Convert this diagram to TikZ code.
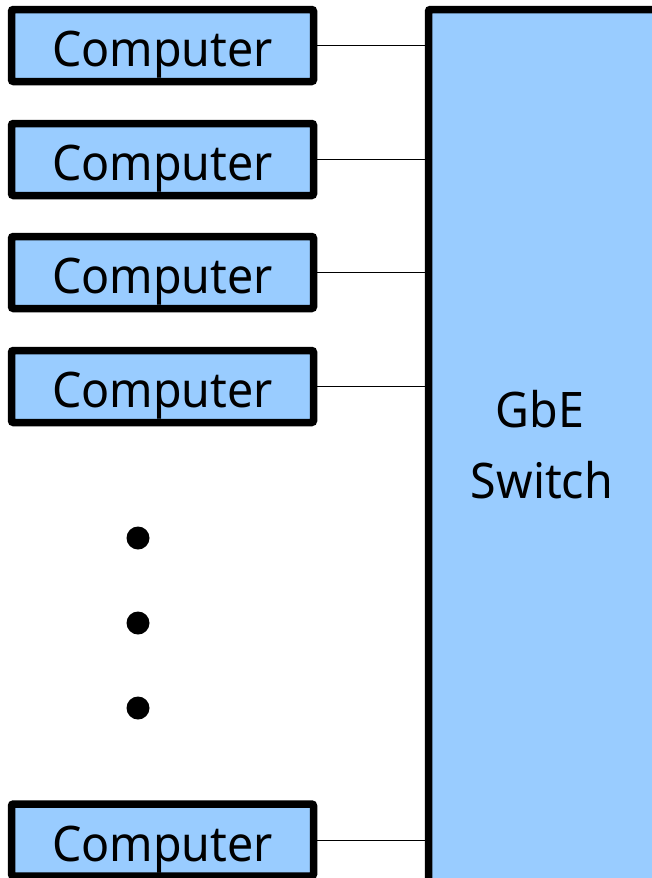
\documentclass[tikz,border=0pt]{standalone}
\usepackage{fontspec}
\setmainfont{Noto Sans}[FakeStretch=0.95]
\definecolor{boxblue}{HTML}{99CCFF}
\begin{document}
\begin{tikzpicture}[x=1pt,y=-1pt,
  bigtext/.style={font=\fontsize{49}{71}\selectfont},
  unit/.style={draw=black, line width=7.5pt, fill=boxblue, rounded corners=2pt,
    minimum width=302pt, minimum height=72pt, inner sep=0pt, outer sep=0pt,
    text height=42pt, text depth=0pt, bigtext, anchor=center},
  link/.style={draw=black, line width=0.9pt},
  dot/.style={circle, fill=black, minimum size=23pt, inner sep=0pt}]
\useasboundingbox (0,0) rectangle (652,878);
% switch (runs past the page edges)
\node[draw=black, line width=7.5pt, fill=boxblue, rounded corners=2pt,
  minimum width=260pt, minimum height=900pt, inner sep=0pt, outer sep=0pt,
  anchor=north west] (sw) at (428.5,9.5) {};
\node[bigtext, anchor=base] (gbe) at (540,427) {GbE};
\node[bigtext, anchor=base] (swname) at (542,498) {Switch};
% computers
\node[unit] (c1) at (162.5,45.5) {Computer};
\node[unit] (c2) at (162.5,159.5) {Computer};
\node[unit] (c3) at (162.5,272.5) {Computer};
\node[unit] (c4) at (162.5,386.5) {Computer};
\node[unit] (c5) at (162.5,840) {Computer};
% connectors
\foreach \i in {1,...,5}{
  \draw[link] (c\i.east) -- (c\i.east -| sw.west);
}
% ellipsis dots
\node[dot] (d1) at (138,538) {};
\node[dot] (d2) at (138,623) {};
\node[dot] (d3) at (138,708) {};
\end{tikzpicture}
\end{document}
